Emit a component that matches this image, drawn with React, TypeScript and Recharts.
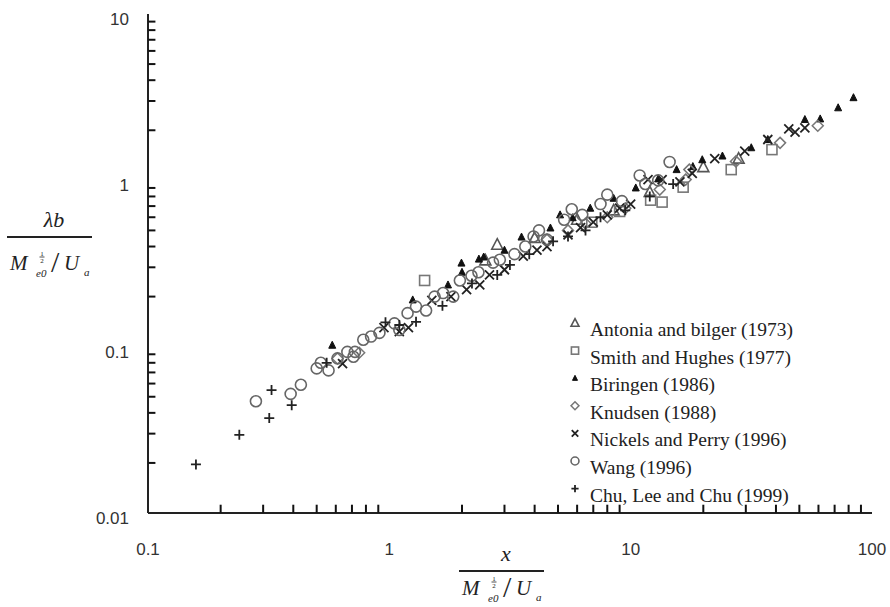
import React from 'react';
import { ScatterChart, Scatter, XAxis, YAxis, Legend } from 'recharts';

// axis ticks (log decades + minor ticks)
const xMajor = [0.1, 1, 10, 100];
const xMinor = [0.2, 0.3, 0.4, 0.5, 0.6, 0.7, 0.8, 0.9, 2, 3, 4, 5, 6, 7, 8, 9, 20, 30, 40, 50, 60, 70, 80, 90];
const yMajor = [0.01, 0.1, 1, 10];
const yMinor = [0.02, 0.03, 0.04, 0.05, 0.06, 0.07, 0.08, 0.09, 0.2, 0.3, 0.4, 0.5, 0.6, 0.7, 0.8, 0.9, 2, 3, 4, 5, 6, 7, 8, 9];

// [x, y] pairs
const antonia: [number, number][] = [
  [2.8, 0.41], [2.5, 0.33], [4.0, 0.45], [6.0, 0.58], [8.5, 0.66], [12, 0.85], [20, 1.2], [28, 1.35],
];
const smith: [number, number][] = [
  [1.4, 0.25], [6.9, 0.56], [9.0, 0.65], [12.1, 0.76], [13.5, 0.74], [16.5, 0.91], [26.1, 1.16], [38.5, 1.53],
];
const biringen: [number, number][] = [
  [0.58, 0.102], [1.25, 0.191], [1.75, 0.235], [1.99, 0.318], [2.35, 0.336], [2.46, 0.346], [3.0, 0.38],
  [2.0, 0.28], [3.53, 0.456], [4.65, 0.517], [5.1, 0.62], [5.75, 0.596], [6.8, 0.68], [8.5, 0.78],
  [10.5, 0.9], [13, 1.02], [15.5, 1.16], [18.1, 1.21], [19.8, 1.33], [24, 1.4], [31.6, 1.57],
  [37, 1.76], [52.7, 2.32], [61, 2.34], [72.4, 2.73], [83.8, 3.14],
];
const knudsen: [number, number][] = [
  [0.61, 0.085], [0.75, 0.092], [4.5, 0.44], [5.5, 0.5], [6.5, 0.55], [8.0, 0.6], [9.5, 0.68],
  [13.2, 0.88], [16.9, 1.01], [17.5, 1.16], [27.3, 1.3], [41.6, 1.68], [59.6, 2.13],
];
const nickels: [number, number][] = [
  [0.64, 0.079], [0.95, 0.13], [1.1, 0.123], [1.2, 0.13], [1.5, 0.19], [1.8, 0.2], [2.09, 0.22],
  [2.37, 0.235], [2.6, 0.27], [3.0, 0.29], [3.59, 0.35], [4.09, 0.38], [4.5, 0.4], [5.5, 0.47],
  [6.2, 0.52], [7.0, 0.56], [8.0, 0.62], [9.0, 0.68], [10, 0.72], [11.8, 1.01], [13.5, 1.01],
  [16, 0.98], [18, 1.1], [22.3, 1.35], [29.7, 1.5], [37, 1.76], [45.2, 2.04], [48, 1.95], [52.7, 2.07],
];
const wang: [number, number][] = [
  [0.28, 0.047], [0.39, 0.052], [0.43, 0.059], [0.5, 0.074], [0.52, 0.08], [0.56, 0.072], [0.61, 0.085],
  [0.67, 0.093], [0.71, 0.087], [0.72, 0.093], [0.78, 0.11], [0.84, 0.115], [0.91, 0.121], [1.05, 0.138],
  [1.1, 0.126], [1.19, 0.159], [1.29, 0.174], [1.42, 0.165], [1.54, 0.2], [1.67, 0.21], [1.84, 0.2],
  [1.96, 0.25], [2.19, 0.267], [2.34, 0.28], [2.69, 0.32], [2.87, 0.333], [3.3, 0.36], [3.66, 0.4],
  [3.96, 0.46], [4.17, 0.5], [4.5, 0.44], [5.3, 0.58], [5.7, 0.67], [6.3, 0.62], [7.5, 0.72],
  [8.0, 0.82], [9.2, 0.75], [10.9, 1.07], [11.5, 0.95], [13, 1.0], [14.5, 1.29],
];
const chu: [number, number][] = [
  [0.158, 0.0196], [0.239, 0.0295], [0.318, 0.0372], [0.325, 0.0548], [0.394, 0.0445], [0.55, 0.08],
  [0.964, 0.14], [1.1, 0.135], [1.29, 0.141], [1.66, 0.176], [2.2, 0.24], [2.8, 0.27], [3.16, 0.31],
  [3.8, 0.36], [4.77, 0.43], [5.5, 0.46], [6.5, 0.5], [7.5, 0.6], [9.5, 0.66], [12, 0.8], [15, 0.95],
];

const series = [
  { name: 'Antonia and bilger (1973)', kind: 'tri', pts: antonia },
  { name: 'Smith and Hughes (1977)', kind: 'square', pts: smith },
  { name: 'Biringen (1986)', kind: 'triFill', pts: biringen },
  { name: 'Knudsen (1988)', kind: 'diamond', pts: knudsen },
  { name: 'Nickels and Perry (1996)', kind: 'x', pts: nickels },
  { name: 'Wang (1996)', kind: 'circle', pts: wang },
  { name: 'Chu, Lee and Chu (1999)', kind: 'plus', pts: chu },
];

const Mark = ({ kind, cx, cy, s = 1 }: { kind: string; cx: number; cy: number; s?: number }) => {
  switch (kind) {
    case 'circle':
      return <circle cx={cx} cy={cy} r={5.5 * s} fill="none" stroke="#666" strokeWidth={1.6} />;
    case 'square':
      return <rect x={cx - 5 * s} y={cy - 5 * s} width={10 * s} height={10 * s} fill="none" stroke="#777" strokeWidth={1.6} />;
    case 'diamond':
      return <path d={`M${cx},${cy - 5.5 * s}L${cx + 5.5 * s},${cy}L${cx},${cy + 5.5 * s}L${cx - 5.5 * s},${cy}Z`} fill="none" stroke="#777" strokeWidth={1.5} />;
    case 'tri':
      return <path d={`M${cx},${cy - 6 * s}L${cx + 5.5 * s},${cy + 4.5 * s}L${cx - 5.5 * s},${cy + 4.5 * s}Z`} fill="none" stroke="#555" strokeWidth={1.6} />;
    case 'triFill':
      return <path d={`M${cx},${cy - 4 * s}L${cx + 3.5 * s},${cy + 3 * s}L${cx - 3.5 * s},${cy + 3 * s}Z`} fill="#111" stroke="#111" strokeWidth={1} />;
    case 'x':
      return <path d={`M${cx - 4.5 * s},${cy - 4.5 * s}L${cx + 4.5 * s},${cy + 4.5 * s}M${cx + 4.5 * s},${cy - 4.5 * s}L${cx - 4.5 * s},${cy + 4.5 * s}`} stroke="#222" strokeWidth={1.8} />;
    case 'vtick':
      return <path d={`M${cx},${cy}V${cy - 8}`} stroke="#111" strokeWidth={2} />;
    case 'htick':
      return <path d={`M${cx},${cy}H${cx + 7}`} stroke="#111" strokeWidth={2} />;
    default:
      return <path d={`M${cx - 5 * s},${cy}L${cx + 5 * s},${cy}M${cx},${cy - 5 * s}L${cx},${cy + 5 * s}`} stroke="#222" strokeWidth={1.8} />;
  }
};

const tickFont = "'Liberation Sans', Arial, sans-serif";
const serif = "'Liberation Serif', 'Times New Roman', serif";

const XTick = (props: any) => (
  <text x={props.x} y={props.y + 42} textAnchor="middle" fontFamily={tickFont} fontSize={17} fill="#333">
    {String(props.payload.value)}
  </text>
);

const YTick = (props: any) => (
  <text x={props.x - 19} y={props.y + 11} textAnchor="end" fontFamily={tickFont} fontSize={17} fill="#333">
    {String(props.payload.value)}
  </text>
);

// fraction-style axis title: x0 = left end of bar, ly = bar y, mb = baseline of the denominator
const Fraction = ({ x0, ly, mb, num }: { x0: number; ly: number; mb: number; num: string }) => (
  <g fontFamily={serif} fill="#222">
    <text x={x0 + 47} y={ly - 10} fontSize={22} fontStyle="italic" textAnchor="middle">{num}</text>
    <line x1={x0} x2={x0 + 85} y1={ly} y2={ly} stroke="#222" strokeWidth={2} />
    <text x={x0 + 3} y={mb} fontSize={21} fontStyle="italic">M</text>
    <text x={x0 + 35} y={mb - 14} fontSize={7} textAnchor="middle">1</text>
    <line x1={x0 + 32.5} x2={x0 + 37.5} y1={mb - 13} y2={mb - 13} stroke="#222" strokeWidth={0.8} />
    <text x={x0 + 35} y={mb - 7} fontSize={7} textAnchor="middle">2</text>
    <text x={x0 + 29} y={mb + 7} fontSize={11} fontStyle="italic">e0</text>
    <text x={x0 + 44} y={mb + 2} fontSize={30}>/</text>
    <text x={x0 + 57} y={mb} fontSize={21} fontStyle="italic">U</text>
    <text x={x0 + 77} y={mb + 6} fontSize={11} fontStyle="italic">a</text>
  </g>
);

const renderLegend = () => (
  <svg width={310} height={200} style={{ display: 'block' }}>
    {series.map((s, i) => (
      <g key={s.name}>
        <Mark kind={s.kind} cx={10} cy={12 + i * 27.6} s={0.72} />
        <text x={25} y={25 + i * 27.6} fontFamily={serif} fontSize={19.5} fill="#222">
          {s.name}
        </text>
      </g>
    ))}
  </svg>
);

// minor tick marks sit on the axis edges; nudged a hair inside the domain
const xMinorPts = xMinor.map((v) => ({ x: v, y: yMajor[0] * 1.004 }));
const yMinorPts = yMinor.map((v) => ({ x: xMajor[0] * 1.004, y: v }));

export default function App() {
  return (
    <div style={{ position: 'absolute', left: 0, top: 0, background: '#fff' }}>
      <ScatterChart width={890} height={607} margin={{ top: 14, right: 18, left: 0, bottom: 0 }}>
        <XAxis
          xAxisId="top"
          orientation="top"
          type="number"
          scale="log"
          domain={[0.1, 100]}
          allowDataOverflow
          height={0}
          tick={false}
          tickLine={false}
          axisLine={{ stroke: '#888', strokeWidth: 2 }}
        />
        <YAxis
          yAxisId="right"
          orientation="right"
          type="number"
          scale="log"
          domain={[0.01, 10]}
          allowDataOverflow
          width={0}
          tick={false}
          tickLine={false}
          axisLine={{ stroke: '#888', strokeWidth: 2 }}
        />
        <XAxis
          dataKey="x"
          type="number"
          scale="log"
          domain={[0.1, 100]}
          allowDataOverflow
          ticks={xMajor}
          interval={0}
          height={94}
          tickSize={0}
          tickMargin={0}
          tickLine={false}
          tick={<XTick />}
          axisLine={{ stroke: '#222', strokeWidth: 2 }}
          label={<Fraction x0={459} ly={571} mb={595} num="x" />}
        />
        <YAxis
          dataKey="y"
          type="number"
          scale="log"
          domain={[0.01, 10]}
          allowDataOverflow
          ticks={yMajor}
          interval={0}
          width={148}
          tickSize={0}
          tickMargin={0}
          tickLine={false}
          tick={<YTick />}
          axisLine={{ stroke: '#222', strokeWidth: 2 }}
          label={<Fraction x0={7} ly={237} mb={270} num="λb" />}
        />
        <Legend
          content={renderLegend}
          layout="vertical"
          align="center"
          verticalAlign="middle"
          wrapperStyle={{ position: 'absolute', left: 565, top: 311, width: 310 }}
        />
        {series.map((s) => (
          <Scatter
            key={s.name}
            name={s.name}
            data={s.pts.map(([x, y]) => ({ x, y }))}
            isAnimationActive={false}
            shape={(p: any) => <Mark kind={s.kind} cx={p.cx} cy={p.cy} />}
          />
        ))}
        <Scatter
          name="x-minor"
          data={xMinorPts}
          isAnimationActive={false}
          shape={(p: any) => <Mark kind="vtick" cx={p.cx} cy={p.cy} />}
        />
        <Scatter
          name="y-minor"
          data={yMinorPts}
          isAnimationActive={false}
          shape={(p: any) => <Mark kind="htick" cx={p.cx} cy={p.cy} />}
        />
      </ScatterChart>
    </div>
  );
}
